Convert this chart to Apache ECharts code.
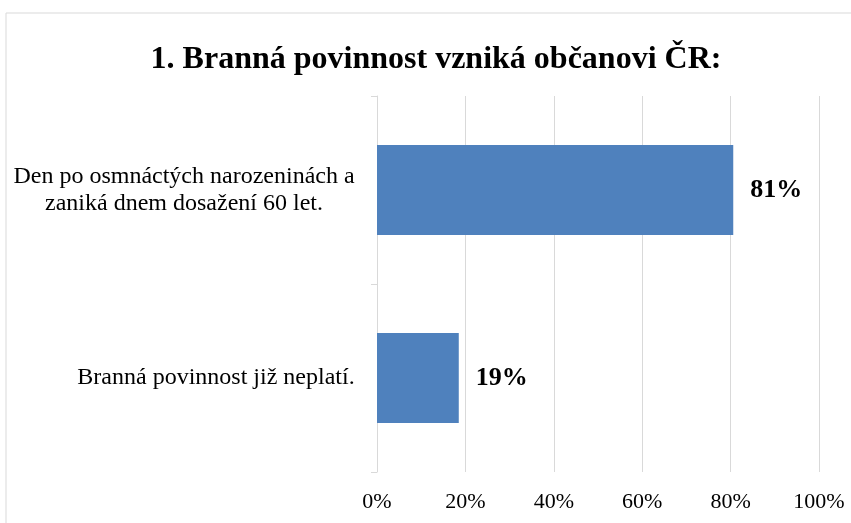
<!DOCTYPE html>
<html>
<head>
<meta charset="utf-8">
<script src="https://cdn.jsdelivr.net/npm/echarts@6/dist/echarts.min.js"></script>
<style>
  html, body { margin: 0; padding: 0; background: #fff; }
  #chart { width: 851px; height: 523px; }
</style>
</head>
<body>
<div id="chart"></div>
<script>
const titleText = '1. Branná povinnost vzniká občanovi ČR:';
const categories = ['Den po osmnáctých narozeninách a\nzaniká dnem dosažení 60 let.', 'Branná povinnost již neplatí.'];
const values = [80.6, 18.5];
const tickValues = [0, 20, 40, 60, 80, 100];

const FONT = '"Liberation Serif", "Times New Roman", serif';
const catFontSize = 24;

const measureCtx = document.createElement('canvas').getContext('2d');
measureCtx.font = catFontSize + 'px ' + FONT;
function blockWidth(text) {
  return Math.ceil(Math.max.apply(null, text.split('\n').map(l => measureCtx.measureText(l).width)));
}

const rich = {};
categories.forEach((c, i) => {
  rich['c' + i] = {
    fontFamily: FONT, fontSize: catFontSize, color: '#000',
    align: 'center', lineHeight: 27, width: blockWidth(c)
  };
});

const chart = echarts.init(document.getElementById('chart'), null, { renderer: 'canvas' });
chart.setOption({
  backgroundColor: '#ffffff',
  animation: false,
  title: {
    text: titleText,
    left: 431,
    top: 39,
    textAlign: 'center',
    textStyle: { fontFamily: FONT, fontSize: 32, fontWeight: 'bold', color: '#000' }
  },
  graphic: [{
    type: 'rect',
    shape: { x: 6, y: 13, width: 900, height: 600 },
    style: { fill: null, stroke: '#d9d9d9', lineWidth: 1 },
    silent: true
  }],
  grid: { left: 377, right: 32, top: 96, bottom: 51, containLabel: false },
  xAxis: {
    type: 'value',
    min: tickValues[0],
    max: tickValues[tickValues.length - 1],
    interval: tickValues[1] - tickValues[0],
    axisLine: { show: false },
    axisTick: { show: false },
    splitLine: { show: true, lineStyle: { color: '#d9d9d9', width: 1 } },
    axisLabel: {
      formatter: v => v + '%',
      fontFamily: FONT, fontSize: 22, color: '#000', margin: 19
    }
  },
  yAxis: {
    type: 'category',
    data: categories,
    inverse: true,
    axisLine: { show: true, lineStyle: { color: '#d9d9d9', width: 1 } },
    axisTick: { show: true, length: 6, lineStyle: { color: '#d9d9d9' } },
    axisLabel: {
      margin: 22,
      formatter: function (val, idx) {
        const key = 'c' + categories.indexOf(val);
        return val.split('\n').map(l => '{' + key + '|' + l + '}').join('\n');
      },
      rich: rich
    }
  },
  series: [{
    type: 'bar',
    data: values,
    barCategoryGap: '52%',
    itemStyle: { color: '#4F81BD' },
    label: {
      show: true,
      position: 'right',
      distance: 17,
      formatter: p => Math.round(p.value) + '%',
      fontFamily: FONT, fontSize: 26, fontWeight: 'bold', color: '#000'
    }
  }]
});
</script>
</body>
</html>
